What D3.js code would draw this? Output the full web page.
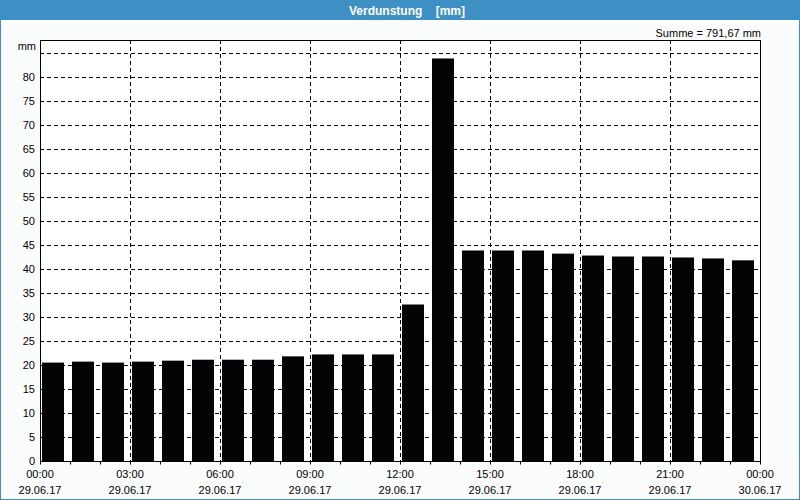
<!DOCTYPE html>
<html><head><meta charset="utf-8">
<script src="https://cdn.jsdelivr.net/npm/d3@7"></script>
<style>
html,body{margin:0;padding:0;background:#fff;}
svg{display:block;}
text{font-family:"Liberation Sans",Arial,sans-serif;}
</style></head>
<body>
<script>
const title = "Verdunstung    [mm]";
const unitLabel = "mm";
const sumLabel = "Summe = 791,67 mm";
const hours = d3.range(0, 24);
const values = [20.5, 20.7, 20.5, 20.7, 20.9, 21.1, 21.1, 21.1, 21.8, 22.2, 22.2, 22.2,
                32.6, 83.85, 43.85, 43.85, 43.85, 43.2, 42.8, 42.6, 42.6, 42.4, 42.2, 41.8];
const yGrid = d3.range(5, 90, 5);
const yLabels = d3.range(0, 85, 5);
const xTickHours = [0, 3, 6, 9, 12, 15, 18, 21, 24];
const xTimeLabels = ["00:00","03:00","06:00","09:00","12:00","15:00","18:00","21:00","00:00"];
const xDateLabels = ["29.06.17","29.06.17","29.06.17","29.06.17","29.06.17","29.06.17","29.06.17","29.06.17","30.06.17"];

const W = 800, H = 500;
const m = {left: 40, right: 40, top: 40, bottom: 39};
const svg = d3.select("body").append("svg").attr("width", W).attr("height", H);

// background + frame
svg.append("rect").attr("x",0).attr("y",0).attr("width",W).attr("height",H).attr("fill","#fbfdfd");
svg.append("rect").attr("x",0.5).attr("y",0.5).attr("width",W-1).attr("height",H-1)
  .attr("fill","none").attr("stroke","#3d8fc4").attr("stroke-width",1);
svg.append("rect").attr("x",0).attr("y",0).attr("width",W).attr("height",20).attr("fill","#3d8fc4");
svg.append("text").attr("x",407).attr("y",14.5).attr("text-anchor","middle")
  .attr("fill","#fff").attr("font-weight","bold").attr("font-size","12px")
  .style("white-space","pre").text(title);

const x = d3.scaleLinear().domain([0,24]).range([m.left, W - m.right]);
const y = d3.scaleLinear().domain([0,87.7]).range([H - m.bottom, m.top]);

// plot background
svg.append("rect").attr("x",x(0)).attr("y",y(87.7)).attr("width",x(24)-x(0)).attr("height",y(0)-y(87.7)).attr("fill","#fff");

// gridlines
const grid = svg.append("g").attr("stroke","#000").attr("stroke-width",1).attr("stroke-dasharray","4,3");
grid.selectAll("line.h").data(yGrid).join("line")
  .attr("x1",x(0)).attr("x2",x(24))
  .attr("y1",d=>Math.round(y(d))+0.5).attr("y2",d=>Math.round(y(d))+0.5);
grid.selectAll("line.v").data(xTickHours.filter(d=>d>0&&d<24)).join("line")
  .attr("y1",y(87.7)).attr("y2",y(0))
  .attr("x1",d=>Math.round(x(d))+0.5).attr("x2",d=>Math.round(x(d))+0.5);

// bars
svg.append("g").selectAll("rect").data(values).join("rect")
  .attr("x",(d,i)=>x(hours[i])+2)
  .attr("width",(d,i)=>x(hours[i]+1)-x(hours[i])-8)
  .attr("y",d=>y(d)).attr("height",d=>y(0)-y(d))
  .attr("fill","#030204");

// plot border
svg.append("rect").attr("x",x(0)+0.5).attr("y",y(87.7)+0.5)
  .attr("width",x(24)-x(0)).attr("height",y(0)-y(87.7))
  .attr("fill","none").attr("stroke","#000").attr("stroke-width",1);

// y axis labels
const yAxis = d3.axisLeft(y).tickValues(yLabels).tickSize(0).tickPadding(5).tickFormat(d3.format("d"));
const gy = svg.append("g").attr("transform",`translate(${x(0)},0)`).call(yAxis);
gy.select(".domain").remove();
gy.selectAll("text").attr("font-size","11px").attr("fill","#000").style("font-family","Liberation Sans, Arial, sans-serif");
svg.append("text").attr("x",36).attr("y",50).attr("text-anchor","end").attr("font-size","11px").text(unitLabel);

// x axis minor ticks
const xAxis = d3.axisBottom(x).tickValues(d3.range(0,25)).tickSize(3).tickFormat("");
const gx = svg.append("g").attr("transform",`translate(0,${Math.round(y(0))+0.5})`).call(xAxis);
gx.select(".domain").remove();
gx.selectAll("line").attr("stroke","#000");

// x labels
const lab = svg.append("g").attr("font-size","11px").attr("text-anchor","middle");
lab.selectAll("text.t").data(xTickHours).join("text").attr("class","t")
  .attr("x",d=>x(d)).attr("y",478).text((d,i)=>xTimeLabels[i]);
lab.selectAll("text.d").data(xTickHours).join("text").attr("class","d")
  .attr("x",d=>x(d)).attr("y",494).text((d,i)=>xDateLabels[i]);

// sum label
svg.append("text").attr("x",x(24)+1).attr("y",37).attr("text-anchor","end").attr("font-size","11px").text(sumLabel);
</script>
</body></html>
